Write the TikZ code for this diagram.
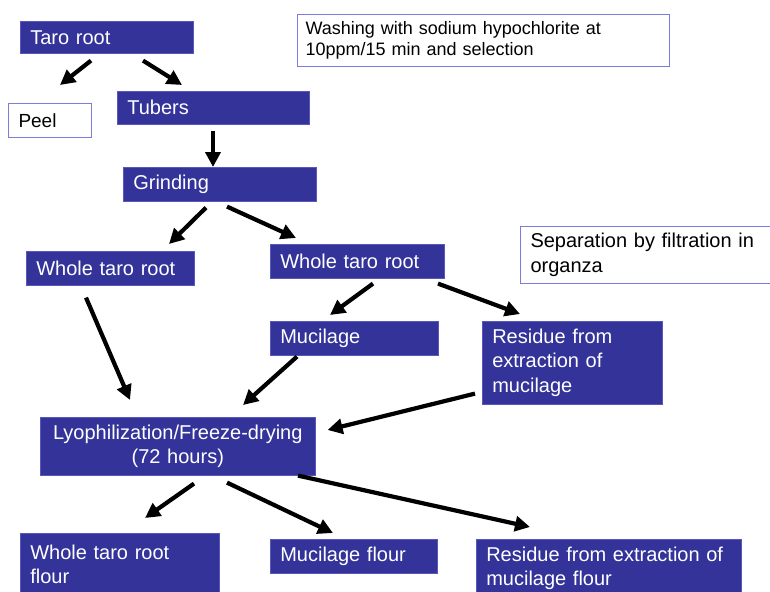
\documentclass[tikz,border=0pt]{standalone}
\usepackage{fontspec}
\setmainfont{Liberation Sans}
\usetikzlibrary{arrows.meta}
\definecolor{boxblue}{HTML}{333399}
\definecolor{edgeblue}{HTML}{7B7BE0}
\begin{document}
\begin{tikzpicture}[x=1pt,y=-1pt,
  bluebox/.style={fill=boxblue, draw=edgeblue!50!boxblue, line width=0.6pt, text=white,
    anchor=north west, inner xsep=10pt, inner ysep=0pt, align=left,
    font=\fontsize{20}{24.5}\selectfont},
  whitebox/.style={fill=white, draw=edgeblue, line width=1pt, text=black,
    anchor=north west, inner xsep=8pt, inner ysep=0pt, align=left},
  flow/.style={line width=4.2pt, -{Triangle[length=15pt,width=15pt]}}]
\useasboundingbox (0,0) rectangle (770,591);
\fill[white] (0,0) rectangle (770,591);

\node[bluebox, text width=153pt, minimum height=32pt] (tr) at (20,21) {Taro root};
\node[whitebox, inner xsep=10pt, text width=63pt, minimum height=34pt,
  font=\fontsize{19}{23}\selectfont] (peel) at (8,103) {Peel};
\node[bluebox, text width=172pt, minimum height=33pt] (tub) at (117,91) {Tubers};
\node[bluebox, text width=173pt, minimum height=34pt] (grd) at (123,167) {Grinding};
\node[whitebox, text width=356pt, minimum height=52pt,
  font=\fontsize{18}{21}\selectfont] (wash) at (297,14)
  {Washing with sodium hypochlorite at\\10ppm/15 min and selection};
\node[bluebox, text width=148pt, minimum height=34pt] (wl) at (26,251) {Whole taro root};
\node[bluebox, text width=154pt, minimum height=34pt] (wr) at (270,244) {Whole taro root};
\node[whitebox, inner xsep=10pt, text width=232pt, minimum height=57pt,
  font=\fontsize{20}{25}\selectfont] (sep) at (520,226)
  {Separation by filtration in\\organza};
\node[bluebox, text width=148pt, minimum height=34pt] (muc) at (270,321) {Mucilage};
\node[bluebox, text width=160pt, minimum height=83pt] (res) at (482,321)
  {Residue from\\extraction of\\mucilage};
\node[bluebox, text width=255pt, minimum height=58pt, align=center] (lyo) at (40,417)
  {Lyophilization/Freeze-drying\\(72 hours)};
\node[bluebox, text width=179pt, minimum height=62pt] (wf) at (20,533)
  {Whole taro root\\flour};
\node[bluebox, text width=147pt, minimum height=34pt] (mf) at (270,539) {Mucilage flour};
\node[bluebox, text width=245pt, minimum height=58pt] (rf) at (476,539)
  {Residue from extraction of\\mucilage flour};

\draw[flow] ([shift={(71,7)}]tr.south west) -- ([shift={(52,-18)}]peel.north west);
\draw[flow] ([shift={(123,7)}]tr.south west) -- ([shift={(65,-6)}]tub.north west);
\draw[flow] ([shift={(96,6)}]tub.south west) -- ([shift={(90,0)}]grd.north west);
\draw[flow] ([shift={(83,6)}]grd.south west) -- ([shift={(143,-7)}]wl.north west);
\draw[flow] ([shift={(104,5)}]grd.south west) -- ([shift={(26,-6)}]wr.north west);
\draw[flow] ([shift={(60,12)}]wl.south west) -- ([shift={(90,-17)}]lyo.north west);
\draw[flow] ([shift={(103,5)}]wr.south west) -- ([shift={(60,-6)}]muc.north west);
\draw[flow] ([shift={(168,5)}]wr.south west) -- ([shift={(38,-7)}]res.north west);
\draw[flow] ([shift={(27,1)}]muc.south west) -- ([shift={(203,-12)}]lyo.north west);
\draw[flow] ([shift={(-7,-11)}]res.south west) -- ([shift={(12,13)}]lyo.north east);
\draw[flow] ([shift={(154,8)}]lyo.south west) -- ([shift={(125,-15)}]wf.north west);
\draw[flow] ([shift={(187,7)}]lyo.south west) -- ([shift={(63,-6)}]mf.north west);
\draw[flow] ([shift={(258,0)}]lyo.south west) -- ([shift={(54,-12)}]rf.north west);
\end{tikzpicture}
\end{document}
